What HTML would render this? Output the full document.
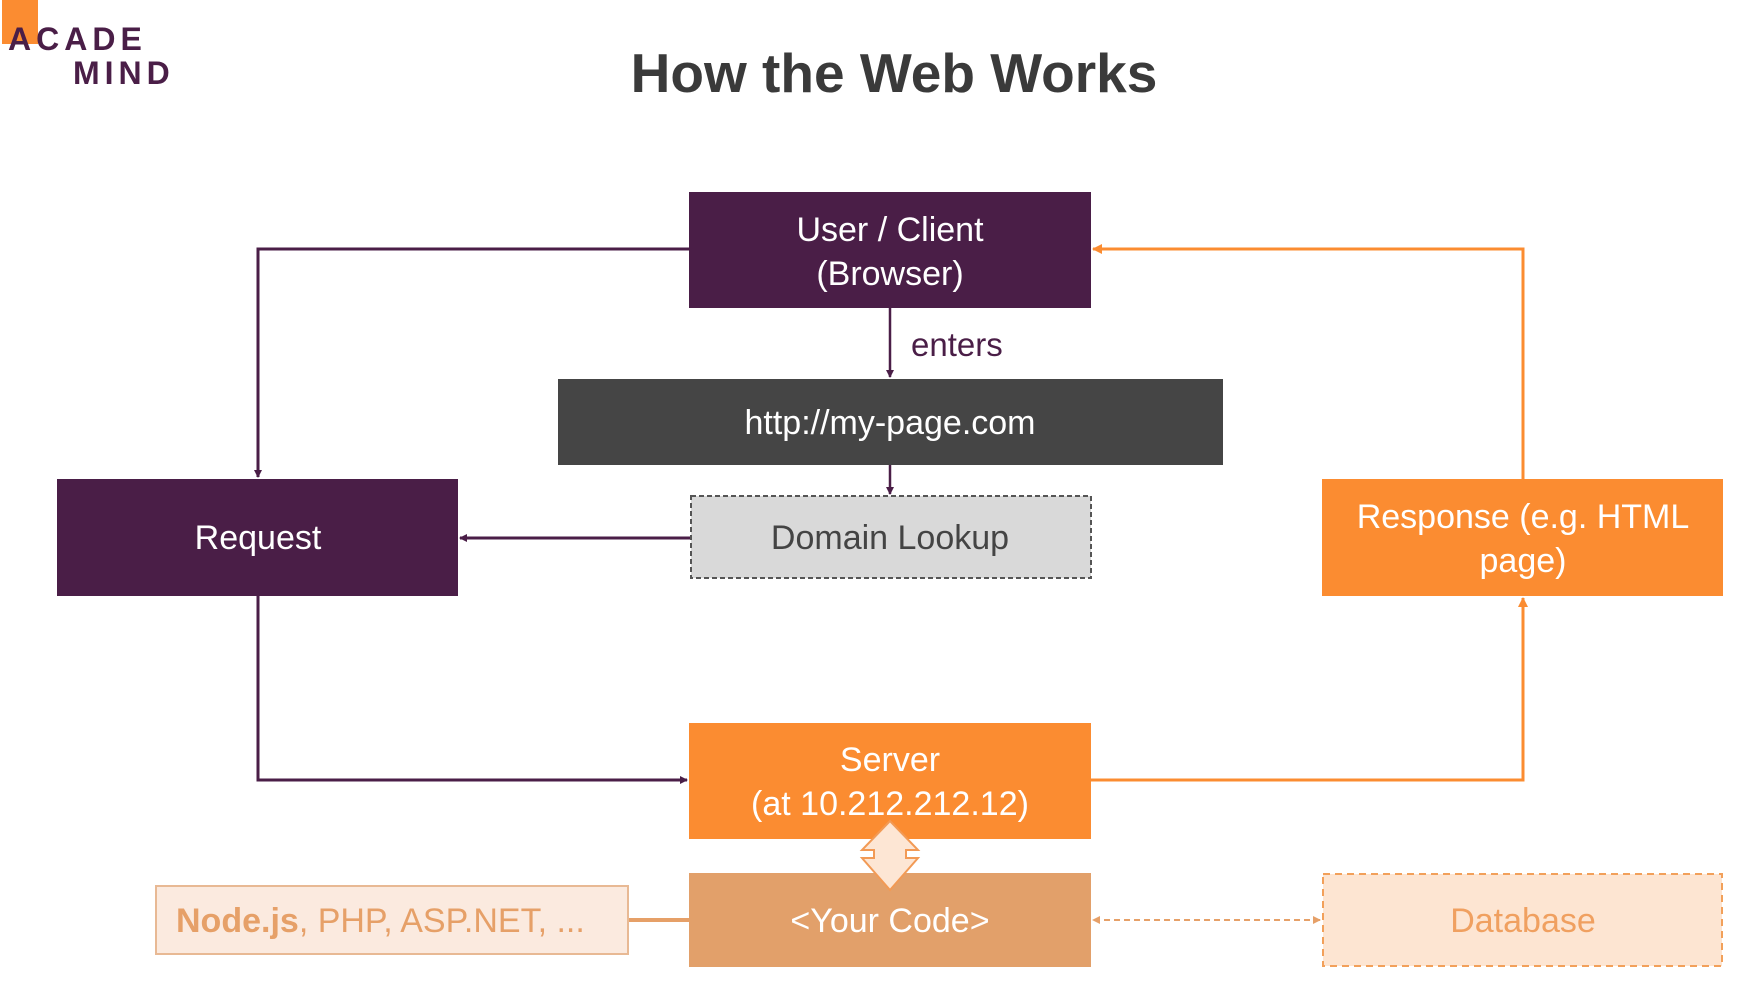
<!DOCTYPE html>
<html><head><meta charset="utf-8"><style>
html,body{margin:0;padding:0;background:#fff;}
svg{display:block;}
text{font-family:"Liberation Sans",sans-serif;}
</style></head><body>
<svg width="1759" height="1005" viewBox="0 0 1759 1005" xmlns="http://www.w3.org/2000/svg">
<defs>
<marker id="ap" markerWidth="8" markerHeight="8" refX="7" refY="4" orient="auto" markerUnits="userSpaceOnUse"><path d="M0,0 L8,4 L0,8 z" fill="#4a1e47"/></marker>
<marker id="ao" markerWidth="10" markerHeight="10" refX="9" refY="5" orient="auto" markerUnits="userSpaceOnUse"><path d="M0,0 L10,5 L0,10 z" fill="#fb8c31"/></marker>
<marker id="al" markerWidth="8" markerHeight="8" refX="7" refY="4" orient="auto-start-reverse" markerUnits="userSpaceOnUse"><path d="M0,0 L8,4 L0,8 z" fill="#e6a068"/></marker>
</defs>
<!-- logo -->
<rect x="2" y="0" width="36" height="44" fill="#fb8c31"/>
<text x="8" y="50" font-size="32" font-weight="bold" fill="#4a1e47" letter-spacing="5">ACADE</text>
<text x="73" y="84" font-size="32" font-weight="bold" fill="#4a1e47" letter-spacing="5">MIND</text>
<!-- title -->
<text x="894" y="92" font-size="55" font-weight="bold" fill="#3a3a3a" text-anchor="middle">How the Web Works</text>

<g transform="translate(-4,0)">
<!-- connectors -->
<polyline points="693,249 262,249 262,477" fill="none" stroke="#4a1e47" stroke-width="3" marker-end="url(#ap)"/>
<polyline points="262,596 262,780 691,780" fill="none" stroke="#4a1e47" stroke-width="3" marker-end="url(#ap)"/>
<line x1="695" y1="538" x2="464" y2="538" stroke="#4a1e47" stroke-width="3" marker-end="url(#ap)"/>
<line x1="894" y1="308" x2="894" y2="377" stroke="#4a1e47" stroke-width="2.5" marker-end="url(#ap)"/>
<line x1="894" y1="465" x2="894" y2="494" stroke="#4a1e47" stroke-width="2.5" marker-end="url(#ap)"/>
<polyline points="1095,780 1527,780 1527,598" fill="none" stroke="#fb8c31" stroke-width="3" marker-end="url(#ao)"/>
<polyline points="1527,479 1527,249 1097,249" fill="none" stroke="#fb8c31" stroke-width="3" marker-end="url(#ao)"/>
<line x1="633" y1="920" x2="693" y2="920" stroke="#e6a068" stroke-width="4"/>
<line x1="1324" y1="920" x2="1097" y2="920" stroke="#e6a068" stroke-width="2" stroke-dasharray="6,4" marker-end="url(#al)" marker-start="url(#al)"/>

<!-- boxes -->
<rect x="693" y="192" width="402" height="116" fill="#4a1e47"/>
<text x="894" y="241" font-size="34" fill="#fff" text-anchor="middle">User / Client</text>
<text x="894" y="285" font-size="34" fill="#fff" text-anchor="middle">(Browser)</text>
<text x="915" y="356" font-size="33" fill="#4a1e47">enters</text>

<rect x="562" y="379" width="665" height="86" fill="#454545"/>
<text x="894" y="434" font-size="34" fill="#fff" text-anchor="middle">http://my-page.com</text>

<rect x="695" y="496" width="400" height="82" fill="#d9d9d9" stroke="#555" stroke-width="2" stroke-dasharray="5,3"/>
<text x="894" y="549" font-size="34" fill="#444" text-anchor="middle">Domain Lookup</text>

<rect x="61" y="479" width="401" height="117" fill="#4a1e47"/>
<text x="262" y="549" font-size="34" fill="#fff" text-anchor="middle">Request</text>

<rect x="1326" y="479" width="401" height="117" fill="#fb8c31"/>
<text x="1527" y="528" font-size="34" fill="#fff" text-anchor="middle">Response (e.g. HTML</text>
<text x="1527" y="572" font-size="34" fill="#fff" text-anchor="middle">page)</text>

<rect x="693" y="723" width="402" height="116" fill="#fb8c31"/>
<text x="894" y="771" font-size="34" fill="#fff" text-anchor="middle">Server</text>
<text x="894" y="815" font-size="34" fill="#fff" text-anchor="middle">(at 10.212.212.12)</text>

<rect x="693" y="873" width="402" height="94" fill="#e2a06a"/>
<text x="894" y="932" font-size="34" fill="#fff" text-anchor="middle">&lt;Your Code&gt;</text>

<!-- double arrow -->
<path d="M894,821 L922,850 L910,850 L910,858 L922,858 L894,890 L866,858 L878,858 L878,850 L866,850 Z" fill="#fde6d4" stroke="#f29a55" stroke-width="2"/>

<rect x="160" y="886" width="472" height="68" fill="#fbeadf" stroke="#e8b994" stroke-width="2"/>
<text x="180" y="932" font-size="34" fill="#e6a068"><tspan font-weight="bold">Node.js</tspan>, PHP, ASP.NET, ...</text>

<rect x="1327" y="874" width="399" height="92" fill="#fde5d2" stroke="#f2a05a" stroke-width="2" stroke-dasharray="7,5"/>
<text x="1527" y="932" font-size="34" fill="#f0a060" text-anchor="middle">Database</text>
</g>
</svg>
</body></html>
